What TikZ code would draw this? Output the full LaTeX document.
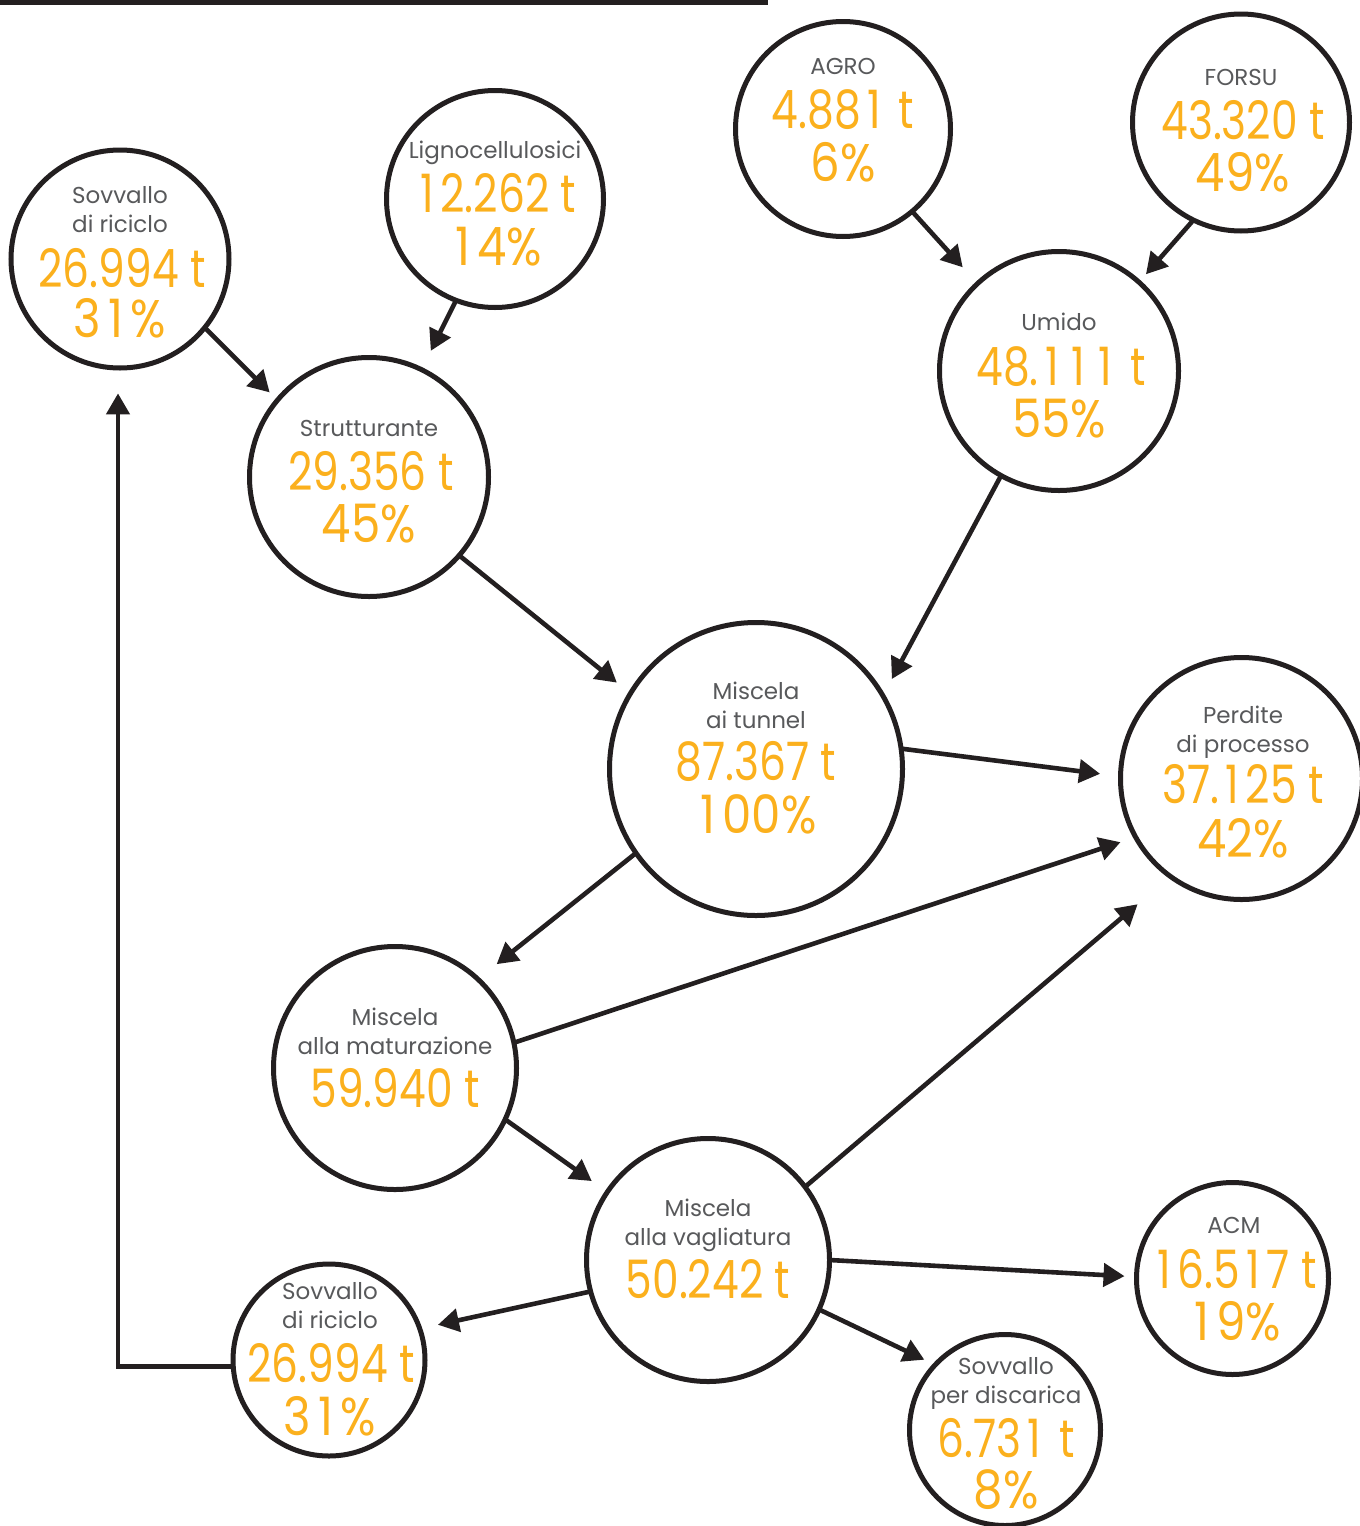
\documentclass[tikz,border=0pt]{standalone}
\usepackage{fontspec}
\setmainfont{Poppins}
\newfontfamily\numfont[FakeStretch=0.8]{Poppins}
\newfontfamily\pctfont[FakeStretch=0.88]{Poppins}
\newcommand\tone{\hbox to \fontcharwd\font`0{\hss1\hss}}
\usetikzlibrary{arrows.meta}
\definecolor{ink}{RGB}{35,31,32}
\definecolor{labc}{RGB}{88,89,91}
\definecolor{orgc}{RGB}{251,176,29}
\begin{document}
\begin{tikzpicture}[x=0.5pt,y=-0.5pt,
  bub/.style={circle,draw=ink,line width=2.5pt,minimum size=#1,inner sep=0pt,outer sep=0pt},
  lbl/.style={anchor=base,text=labc,font=\fontsize{11.5}{11.5}\selectfont,inner sep=0pt},
  val/.style={anchor=base,text=orgc,font=\numfont\fontsize{26.5}{26.5}\selectfont,inner sep=0pt},
  pct/.style={anchor=base,text=orgc,font=\pctfont\fontsize{26.5}{26.5}\selectfont,inner sep=0pt},
  arr/.style={draw=ink,line width=2.3pt,-{Triangle[length=10.5pt,width=11.5pt]}},
]
\useasboundingbox (0,0) rectangle (1360,1526);
\clip (0,0) rectangle (1360,1526);
\fill[white] (0,0) rectangle (1360,1526);
\draw[ink,line width=2.5pt] (0,2.5) -- (768,2.5);

% circles
\node[bub=109pt]   (A) at (120,259) {};
\node[bub=108.5pt] (B) at (495,199) {};
\node[bub=107.5pt] (C) at (843,129) {};
\node[bub=108.5pt] (D) at (1241,122.5) {};
\node[bub=119.5pt] (E) at (1059,371) {};
\node[bub=119.5pt] (F) at (369,477) {};
\node[bub=146.5pt] (G) at (756,769) {};
\node[bub=121pt]   (H) at (1241.5,778.5) {};
\node[bub=121.5pt] (I) at (395,1068) {};
\node[bub=121.5pt] (J) at (708,1260) {};
\node[bub=96pt]    (K) at (1232.5,1278.5) {};
\node[bub=95.5pt]  (L) at (1005,1430) {};
\node[bub=96pt]    (M) at (329,1360) {};

% texts
\node[lbl] (A1) at (120,203) {Sovvallo};
\node[lbl] (A2) at (120,232) {di riciclo};
\node[val] (A3) at (122,287) {26.994 t};
\node[pct] (A4) at (120,337) {3\tone\%};

\node[lbl] (B1) at (495,158) {Lignocellulosici};
\node[val] (B2) at (495,212) {\tone2.262 t};
\node[pct] (B3) at (495,265) {\tone4\%};

\node[lbl] (C1) at (843,74) {AGRO};
\node[val] (C2) at (843,128) {4.88\tone\ t};
\node[pct] (C3) at (843,181) {6\%};

\node[lbl] (D1) at (1241,85) {FORSU};
\node[val] (D2) at (1243,139) {43.320 t};
\node[pct] (D3) at (1243,191) {49\%};

\node[lbl] (E1) at (1059,330) {Umido};
\node[val] (E2) at (1061,385) {48.\tone\tone\tone\ t};
\node[pct] (E3) at (1059,437) {55\%};

\node[lbl] (F1) at (369,436) {Strutturante};
\node[val] (F2) at (371,490) {29.356 t};
\node[pct] (F3) at (369,542) {45\%};

\node[lbl] (G1) at (756,699) {Miscela};
\node[lbl] (G2) at (756,728) {ai tunnel};
\node[val] (G3) at (756,780) {87.367 t};
\node[pct] (G4) at (755,833) {\tone00\%};

\node[lbl] (H1) at (1243,723) {Perdite};
\node[lbl] (H2) at (1243,752) {di processo};
\node[val] (H3) at (1243,803) {37.\tone25 t};
\node[pct] (H4) at (1243,857) {42\%};

\node[lbl] (I1) at (395,1025) {Miscela};
\node[lbl] (I2) at (395,1054) {alla maturazione};
\node[val] (I3) at (395,1107) {59.940 t};

\node[lbl] (J1) at (708,1216) {Miscela};
\node[lbl] (J2) at (708,1245) {alla vagliatura};
\node[val] (J3) at (708,1298) {50.242 t};

\node[lbl] (K1) at (1234,1233) {ACM};
\node[val] (K2) at (1234,1288) {\tone6.5\tone7 t};
\node[pct] (K3) at (1234,1340) {\tone9\%};

\node[lbl] (L1) at (1006,1374) {Sovvallo};
\node[lbl] (L2) at (1006,1403) {per discarica};
\node[val] (L3) at (1006,1457) {6.73\tone\ t};
\node[pct] (L4) at (1006,1508) {8\%};

\node[lbl] (M1) at (330,1299) {Sovvallo};
\node[lbl] (M2) at (330,1328) {di riciclo};
\node[val] (M3) at (331,1382) {26.994 t};
\node[pct] (M4) at (330,1435) {3\tone\%};

% connectors
\draw[arr,shorten >=5.5pt] (A.-39.5) -- (F.140);
\draw[arr,shorten >=10.5pt] (B.-111.2) -- (F.64.3);
\draw[arr,shorten >=11pt] (C.-50.2) -- (E.133.1);
\draw[arr,shorten >=5.3pt] (D.-116.1) -- (E.48.8);
\draw[arr,shorten >=8.7pt] (F.-41) -- (G.149.9);
\draw[arr,shorten >=9.5pt] (E.-119) -- (G.30);
\draw[arr,shorten >=10.3pt] (G.8) -- (H.179.3);
\draw[arr,shorten >=12pt] (G.-145.7) -- (I.47.4);
\draw[arr,shorten >=8pt] (I.12.3) -- (H.209.2);
\draw[arr,shorten >=9.5pt] (I.-25.5) -- (J.146.6);
\draw[arr,shorten >=21.5pt] (J.37) -- (H.234.9);
\draw[arr,shorten >=6pt] (J.-0.8) -- (K.179);
\draw[arr,shorten >=6pt] (J.-24.3) -- (L.137.9);
\draw[arr,shorten >=9.3pt] (J.195) -- (M.19.2);
\draw[arr,shorten >=12.7pt] (M.184) -| ([xshift=-1pt]A.south);
\end{tikzpicture}
\end{document}
